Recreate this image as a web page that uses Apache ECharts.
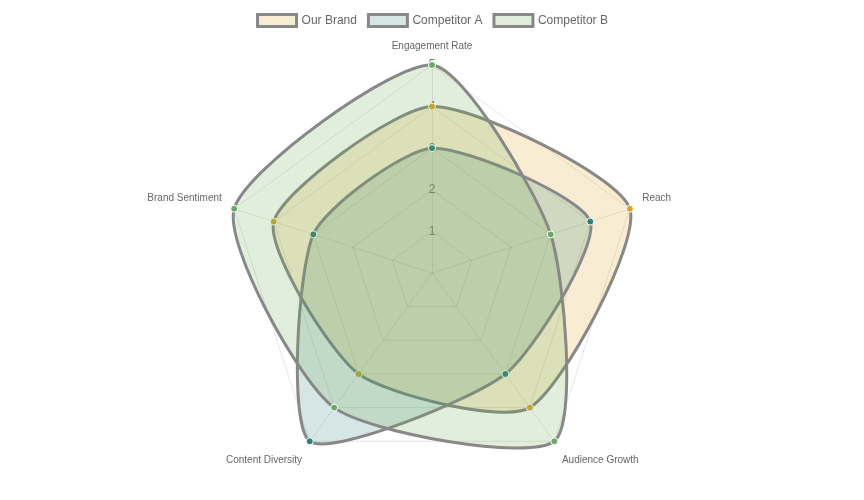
<!DOCTYPE html>
<html>
<head>
<meta charset="utf-8">
<script src="https://cdn.jsdelivr.net/npm/echarts@6/dist/echarts.min.js"></script>
<style>
  html, body { margin: 0; padding: 0; background: #fff; }
  #chart { width: 864px; height: 500px; }
</style>
</head>
<body>
<div id="chart"></div>
<script>
// Data
const indicators = ['Engagement Rate', 'Reach', 'Audience Growth', 'Content Diversity', 'Brand Sentiment']
const ourBrand = [4, 5, 4, 3, 4]
const competitorA = [3, 4, 3, 5, 3]
const competitorB = [5, 3, 5, 4, 5]
const tickLabels = ['1', '2', '3', '4', '5']
const maxValue = 5

const FONT = '"Liberation Sans", Arial, Helvetica, sans-serif'
const CENTER = [432, 273]
const RADIUS = 208

const seriesDefs = [
  { name: 'Our Brand', values: ourBrand, fill: 'rgba(218,165,32,0.2)', point: '#daa520' },
  { name: 'Competitor A', values: competitorA, fill: 'rgba(47,128,120,0.2)', point: '#2f8078' },
  { name: 'Competitor B', values: competitorB, fill: 'rgba(106,168,79,0.2)', point: '#6aaa64' }
]

// radar component goes counter-clockwise, the picture goes clockwise
const radarOrder = [0, 4, 3, 2, 1]

/**
 * Pick a label style so names sit like in the picture
 */
function nameStyle(name) {
  const i = indicators.indexOf(name)
  if (i === 0) return 'top'
  if (i === 2 || i === 3) return 'bottom'
  return 'side'
}

/**
 * Smooth closed shape + points for one dataset
 */
function makeRenderItem(def) {
  return function (params, api) {
    const pt = api.coord([api.value(0), api.value(1)])
    const dot = {
      type: 'circle',
      shape: { cx: pt[0], cy: pt[1], r: 3.5 },
      style: { fill: def.point, stroke: '#fff', lineWidth: 1 }
    }
    if (params.dataIndex !== 0) return dot

    const points = def.values.map((v, i) => api.coord([v, i]))
    return {
      type: 'group',
      children: [
        {
          type: 'polygon',
          shape: { points, smooth: 0.22 },
          style: { fill: def.fill, stroke: '#888', lineWidth: 3 }
        },
        dot
      ]
    }
  }
}

const chart = echarts.init(document.getElementById('chart'))

const nameText = { color: '#666', fontSize: 10, fontFamily: FONT }

const option = {
  animation: false,
  textStyle: { fontFamily: FONT },
  legend: {
    top: 8,
    left: 'center',
    icon: 'rect',
    itemWidth: 39,
    itemHeight: 12,
    itemGap: 10,
    textStyle: { color: '#666', fontSize: 12, fontFamily: FONT },
    data: seriesDefs.map(d => ({
      name: d.name,
      itemStyle: { color: d.fill, borderColor: '#888', borderWidth: 3 }
    }))
  },
  radar: {
    center: CENTER,
    radius: RADIUS,
    startAngle: 90,
    splitNumber: 5,
    shape: 'polygon',
    nameGap: 13,
    axisName: {
      ...nameText,
      formatter: name => `{${nameStyle(name)}|${name}}`,
      rich: {
        top: { ...nameText, padding: [0, 0, 1, 0] },
        side: { ...nameText, padding: [0, 0, 13, 0] },
        bottom: { ...nameText, padding: [16, 0, 0, 0] }
      }
    },
    indicator: radarOrder.map(i => ({ name: indicators[i], min: 0, max: maxValue })),
    axisLine: { lineStyle: { color: 'rgba(0,0,0,0.1)' } },
    splitLine: { lineStyle: { color: 'rgba(0,0,0,0.1)' } },
    splitArea: { show: false },
    axisLabel: { show: false }
  },
  polar: { center: CENTER, radius: RADIUS },
  angleAxis: {
    type: 'category',
    data: indicators,
    boundaryGap: false,
    startAngle: 90,
    clockwise: true,
    axisLine: { show: false },
    axisTick: { show: false },
    axisLabel: { show: false },
    splitLine: { show: false }
  },
  radiusAxis: {
    type: 'value',
    min: 0,
    max: maxValue,
    interval: 1,
    axisLine: { show: false },
    axisTick: { show: false },
    splitLine: { show: false },
    axisLabel: {
      margin: 0,
      align: 'center',
      verticalAlign: 'middle',
      color: '#777',
      fontSize: 12,
      fontFamily: FONT,
      formatter: v => (v === 0 ? '' : tickLabels[v - 1])
    }
  },
  series: seriesDefs.map(def => ({
    name: def.name,
    type: 'custom',
    coordinateSystem: 'polar',
    itemStyle: { color: def.fill },
    data: def.values.map((v, i) => [v, i]),
    renderItem: makeRenderItem(def)
  }))
}

chart.setOption(option)
</script>
</body>
</html>
